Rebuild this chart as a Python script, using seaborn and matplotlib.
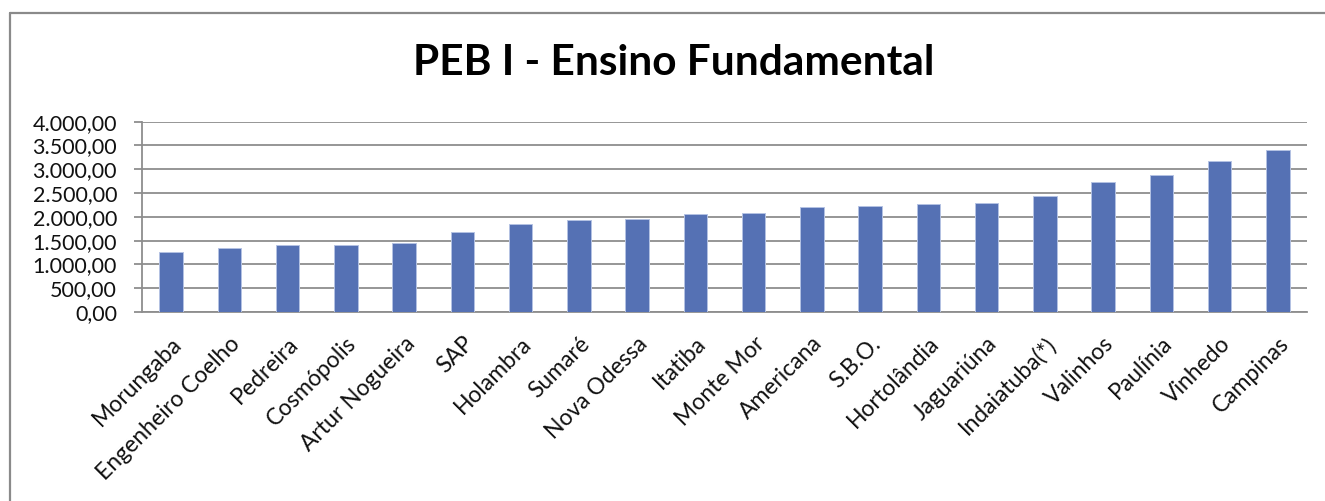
import matplotlib
matplotlib.use("Agg")
import matplotlib.pyplot as plt
import matplotlib.ticker as mticker
from matplotlib.lines import Line2D
import seaborn as sns

# Piso salarial PEB I (Ensino Fundamental) por município
cidades = ["Morungaba", "Engenheiro Coelho", "Pedreira", "Cosmópolis", "Artur Nogueira",
           "SAP", "Holambra", "Sumaré", "Nova Odessa", "Itatiba", "Monte Mor", "Americana",
           "S.B.O.", "Hortolândia", "Jaguariúna", "Indaiatuba(*)", "Valinhos", "Paulínia",
           "Vinhedo", "Campinas"]
valores = [1254, 1338, 1408, 1405, 1457, 1689, 1843, 1927, 1955, 2053, 2081, 2214,
           2235, 2263, 2291, 2445, 2733, 2887, 3167, 3405]
yticks = [0, 500, 1000, 1500, 2000, 2500, 3000, 3500, 4000]
titulo = "PEB I - Ensino Fundamental"

sns.set_theme(style="white")
plt.rcParams["font.family"] = ["Lato", "DejaVu Sans"]

BAR = "#5571b4"
GRID = "#8e8e8e"
W, H = 1325, 501

fig = plt.figure(figsize=(W / 100, H / 100), dpi=100)
ax = fig.add_axes([142 / W, 189 / H, (1307 - 142) / W, (312 - 121.67) / H])

sns.barplot(x=cidades, y=valores, color=BAR, saturation=1, width=0.4,
            edgecolor="#b4c2e3", linewidth=0.7, ax=ax, zorder=3)

ax.set_ylim(0, 4000)
ax.set_xlim(-0.5, len(cidades) - 0.5)
ax.set_yticks(yticks)
ax.yaxis.set_major_formatter(mticker.FuncFormatter(
    lambda v, p: f"{v:,.2f}".replace(",", "X").replace(".", ",").replace("X", ".")))
ax.yaxis.grid(True, color=GRID, linewidth=1.3, zorder=0)
ax.set_axisbelow(True)
ax.set_xlabel("")
ax.set_ylabel("")

for s in ["top", "right"]:
    ax.spines[s].set_visible(False)
for s in ["left", "bottom"]:
    ax.spines[s].set_color(GRID)
    ax.spines[s].set_linewidth(1.3)

# category boundary ticks on the x axis
ax.set_xticks([i - 0.5 for i in range(len(cidades) + 1)], minor=True)
ax.tick_params(axis="x", which="minor", length=5, width=1.3, color=GRID, direction="out")
ax.tick_params(axis="x", which="major", length=0, pad=15, labelsize=16.5, labelcolor="#111111")
ax.tick_params(axis="y", which="major", length=6, width=1.3, color=GRID, pad=12,
               labelsize=15.5, labelcolor="#111111", left=True)
for lab in ax.get_xticklabels():
    lab.set_rotation(45)
    lab.set_ha("right")
    lab.set_va("top")
    lab.set_rotation_mode("anchor")

fig.text(674 / W, 1 - 63 / H, titulo, ha="center", va="center", fontsize=30.5,
         fontweight="bold", color="#000000")

# frame lines (top and left) around the chart area
fig.add_artist(Line2D([10 / W, 1.0], [1 - 12.5 / H] * 2, transform=fig.transFigure,
                      color="#8a8a8a", linewidth=1.6))
fig.add_artist(Line2D([10 / W] * 2, [0.0, 1 - 12.5 / H], transform=fig.transFigure,
                      color="#8a8a8a", linewidth=1.6))

fig.savefig("out.png", dpi=100, facecolor="white")
